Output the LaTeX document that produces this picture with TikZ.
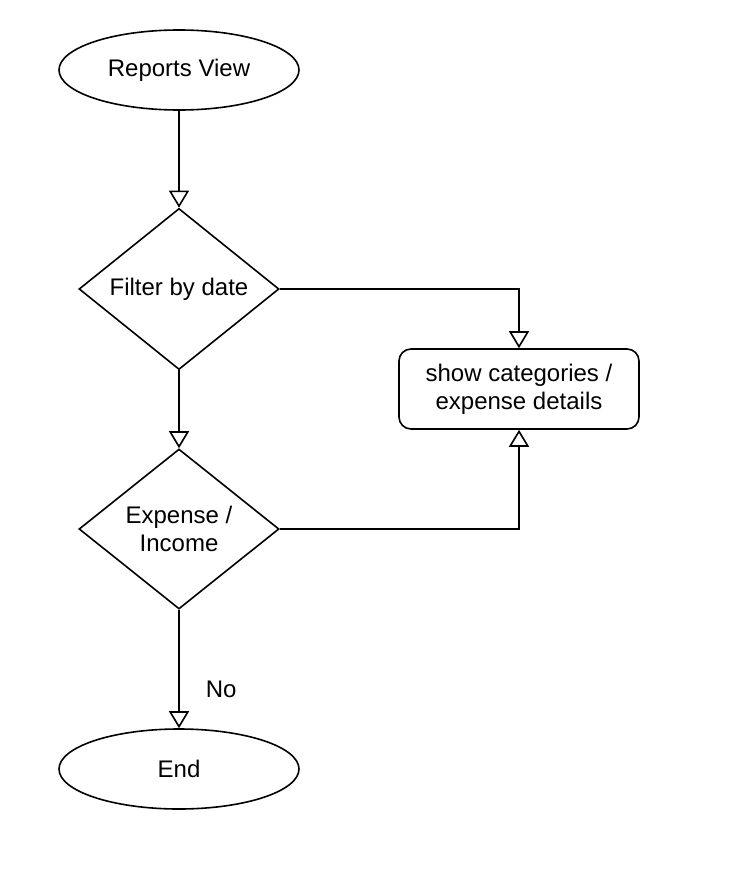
\documentclass[tikz,border=0pt]{standalone}
\usepackage{fontspec}
\setmainfont{Liberation Sans}
\usetikzlibrary{shapes.geometric,arrows.meta}

\begin{document}
\begin{tikzpicture}[x=1pt, y=-1pt,
    every node/.style={font=\fontsize{24}{28}\selectfont, align=center, inner sep=0pt},
    terminal/.style={ellipse, draw, line width=1.6pt, minimum width=240pt, minimum height=80pt},
    decision/.style={diamond, draw, line width=1.6pt, minimum width=200pt, minimum height=160pt},
    process/.style={rectangle, draw, rounded corners=12pt, line width=1.6pt, minimum width=240pt, minimum height=80pt},
    flow/.style={line width=1.6pt, -{Triangle[open, width=20pt, length=17pt, line width=1.6pt]}}]
    \useasboundingbox (0,0) rectangle (754,886);
    \node[terminal] (start) at (179,70) {Reports View};
    \node[decision] (filter) at (179,289) {Filter by date};
    \node[process] (show) at (519,389) {show categories /\\expense details};
    \node[decision] (type) at (179,529) {Expense /\\Income};
    \node[terminal] (end) at (179,769) {End};
    \draw[flow] (start) -- (filter);
    \draw[flow] (filter) -- (type);
    \draw[flow] (filter.east) -| (show.north);
    \draw[flow] (type.east) -| (show.south);
    \draw[flow] (type) -- node[pos=0.67, anchor=west, xshift=26pt] (no) {No} (end);
\end{tikzpicture}
\end{document}
